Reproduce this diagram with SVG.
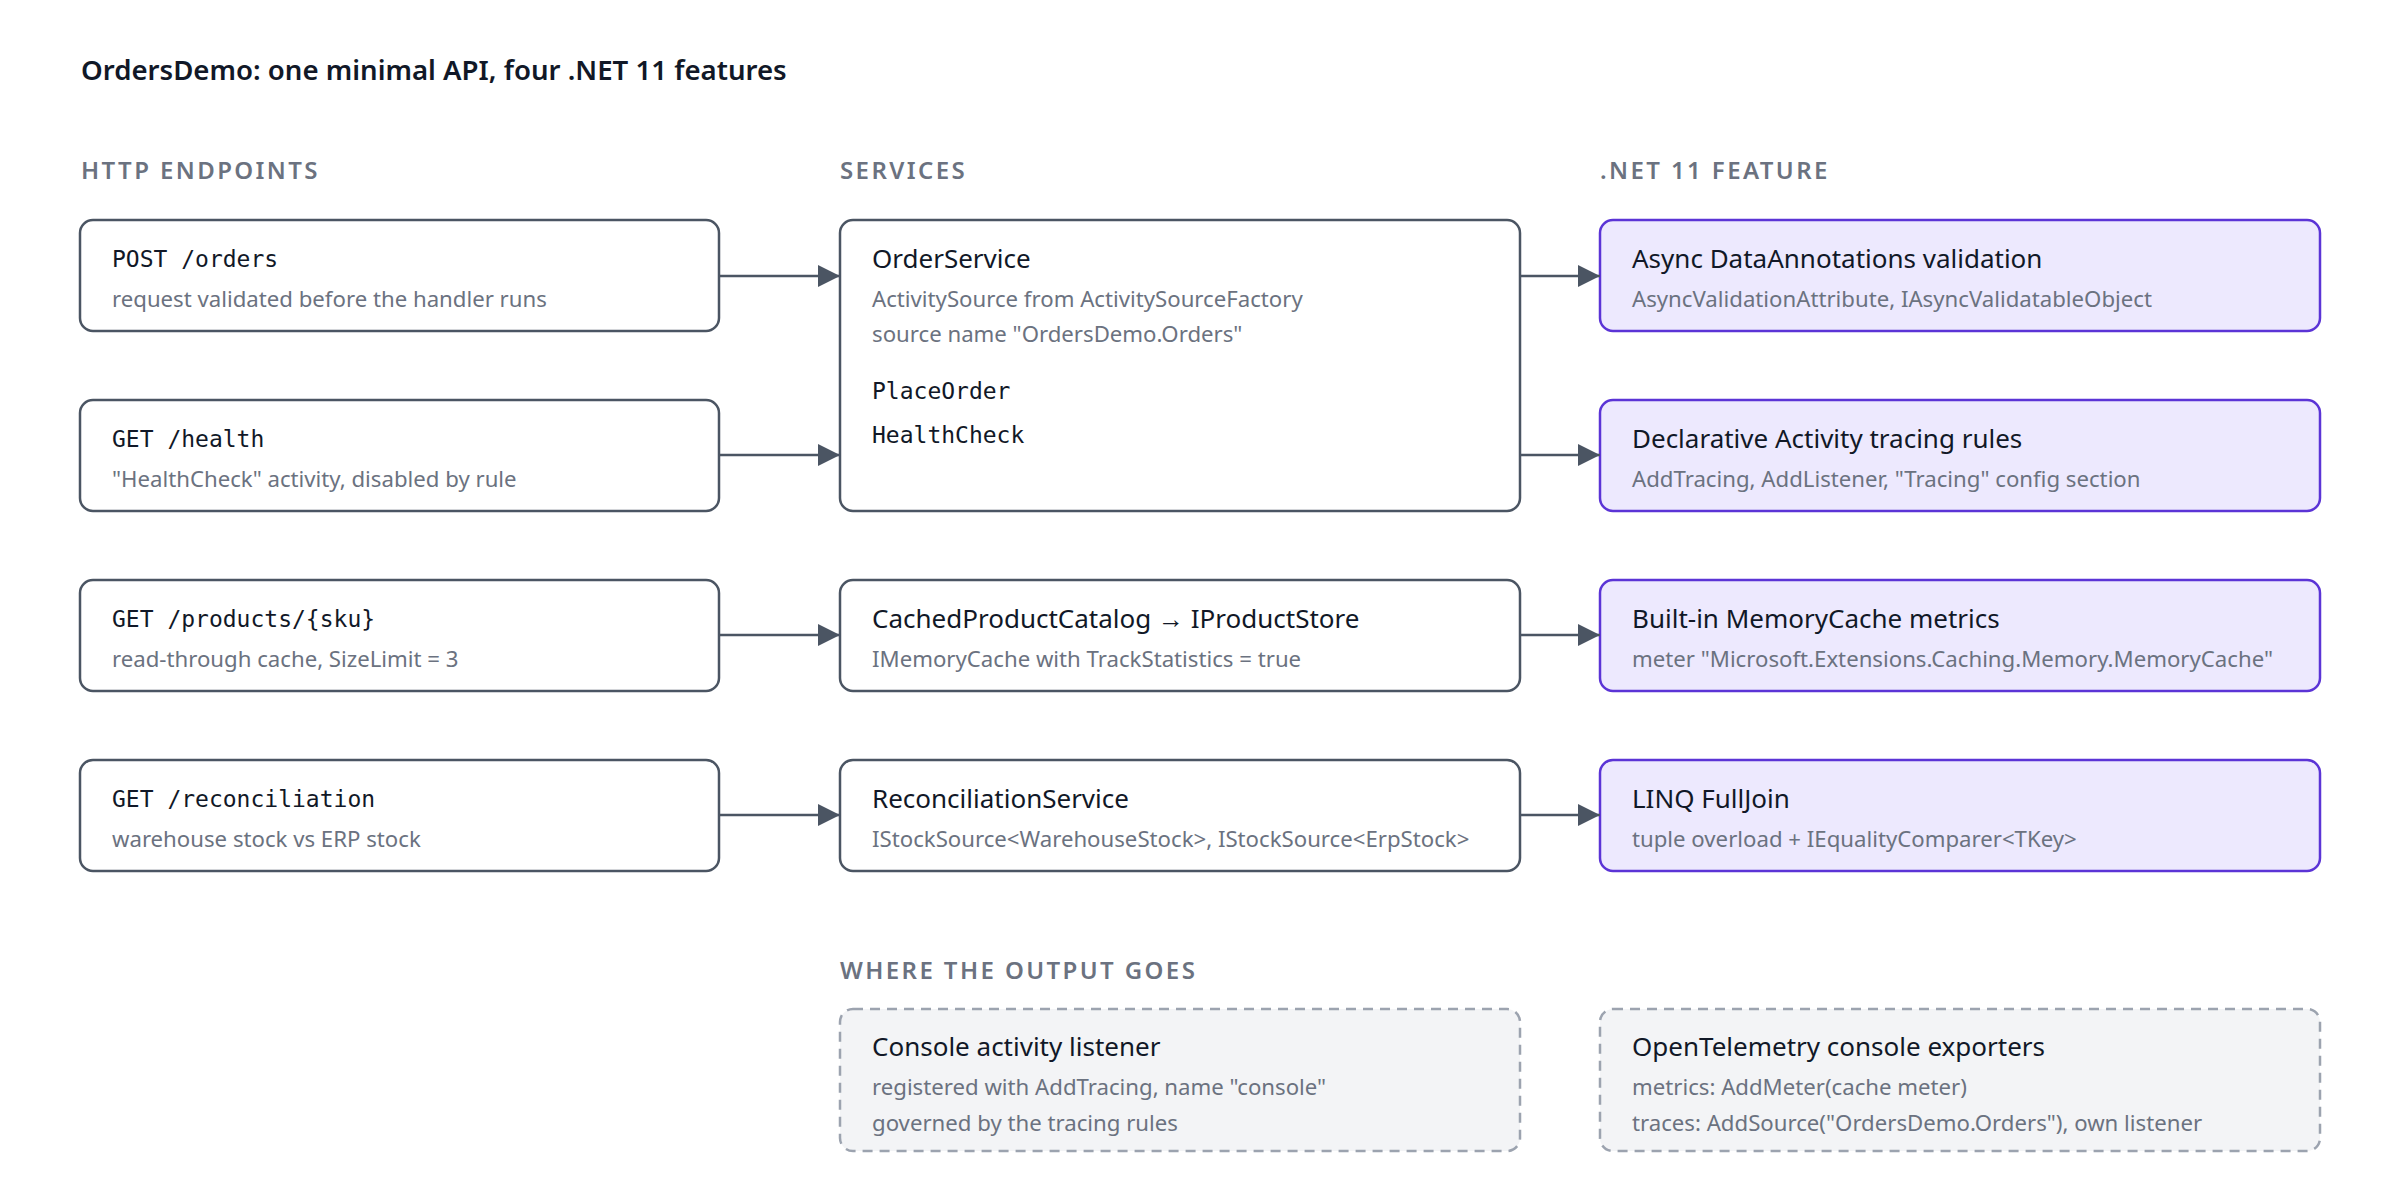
<svg xmlns="http://www.w3.org/2000/svg" width="2400" height="1200" viewBox="0 0 2400 1200">
<style>
text{font-family:"Noto Sans","Open Sans","Liberation Sans",sans-serif}
.title{font-size:27.6px;font-weight:600;fill:#111827}
.hdr{font-size:24px;font-weight:600;fill:#6b7280;letter-spacing:2.4px}
.box{fill:#fff;stroke:#4b5563;stroke-width:2.5}
.feat{fill:#ede9fe;stroke:#5b34d6;stroke-width:2.5}
.out{fill:#f3f4f6;stroke:#9ca3af;stroke-width:2.5;stroke-dasharray:10 7}
.t{font-size:26px;fill:#111827}
.m{font-family:"DejaVu Sans Mono","Liberation Mono",monospace;font-size:23px;fill:#111827}
.s{font-size:22.2px;fill:#6b7280}
</style>
<defs><marker id="ah2" viewBox="0 0 10 10" refX="10" refY="5" markerWidth="22" markerHeight="22" markerUnits="userSpaceOnUse" orient="auto"><path d="M0,0 L10,5 L0,10 z" fill="#4b5563"/></marker></defs>
<rect width="2400" height="1200" fill="#fff"/>
<text class="title" x="81" y="80">OrdersDemo: one minimal API, four .NET 11 features</text>
<text class="hdr" x="81" y="179">HTTP ENDPOINTS</text>
<text class="hdr" x="840" y="179">SERVICES</text>
<text class="hdr" x="1600" y="179">.NET 11 FEATURE</text>
<text class="hdr" x="840" y="979">WHERE THE OUTPUT GOES</text>
<g id="ep-orders"><rect class="box" x="80" y="220" width="639" height="111" rx="13"/><text class="m" x="112" y="267">POST /orders</text><text class="s" x="112" y="307">request validated before the handler runs</text></g>
<g id="ep-health"><rect class="box" x="80" y="400" width="639" height="111" rx="13"/><text class="m" x="112" y="447">GET /health</text><text class="s" x="112" y="487">"HealthCheck" activity, disabled by rule</text></g>
<g id="ep-products"><rect class="box" x="80" y="580" width="639" height="111" rx="13"/><text class="m" x="112" y="627">GET /products/{sku}</text><text class="s" x="112" y="667">read-through cache, SizeLimit = 3</text></g>
<g id="ep-recon"><rect class="box" x="80" y="760" width="639" height="111" rx="13"/><text class="m" x="112" y="807">GET /reconciliation</text><text class="s" x="112" y="847">warehouse stock vs ERP stock</text></g>
<g id="svc-order"><rect class="box" x="840" y="220" width="680" height="291" rx="13"/><text class="t" x="872" y="268">OrderService</text><text class="s" x="872" y="307">ActivitySource from ActivitySourceFactory</text><text class="s" x="872" y="342">source name "OrdersDemo.Orders"</text><text class="m" x="872" y="399">PlaceOrder</text><text class="m" x="872" y="443">HealthCheck</text></g>
<g id="svc-catalog"><rect class="box" x="840" y="580" width="680" height="111" rx="13"/><text class="t" x="872" y="628">CachedProductCatalog → IProductStore</text><text class="s" x="872" y="667">IMemoryCache with TrackStatistics = true</text></g>
<g id="svc-recon"><rect class="box" x="840" y="760" width="680" height="111" rx="13"/><text class="t" x="872" y="808">ReconciliationService</text><text class="s" x="872" y="847">IStockSource&lt;WarehouseStock&gt;, IStockSource&lt;ErpStock&gt;</text></g>
<g id="f-validation"><rect class="feat" x="1600" y="220" width="720" height="111" rx="13"/><text class="t" x="1632" y="268">Async DataAnnotations validation</text><text class="s" x="1632" y="307">AsyncValidationAttribute, IAsyncValidatableObject</text></g>
<g id="f-tracing"><rect class="feat" x="1600" y="400" width="720" height="111" rx="13"/><text class="t" x="1632" y="448">Declarative Activity tracing rules</text><text class="s" x="1632" y="487">AddTracing, AddListener, "Tracing" config section</text></g>
<g id="f-metrics"><rect class="feat" x="1600" y="580" width="720" height="111" rx="13"/><text class="t" x="1632" y="628">Built-in MemoryCache metrics</text><text class="s" x="1632" y="667">meter "Microsoft.Extensions.Caching.Memory.MemoryCache"</text></g>
<g id="f-fulljoin"><rect class="feat" x="1600" y="760" width="720" height="111" rx="13"/><text class="t" x="1632" y="808">LINQ FullJoin</text><text class="s" x="1632" y="847">tuple overload + IEqualityComparer&lt;TKey&gt;</text></g>
<g id="out-console"><rect class="out" x="840" y="1009" width="680" height="142" rx="13"/><text class="t" x="872" y="1056">Console activity listener</text><text class="s" x="872" y="1095">registered with AddTracing, name "console"</text><text class="s" x="872" y="1131">governed by the tracing rules</text></g>
<g id="out-otel"><rect class="out" x="1600" y="1009" width="720" height="142" rx="13"/><text class="t" x="1632" y="1056">OpenTelemetry console exporters</text><text class="s" x="1632" y="1095">metrics: AddMeter(cache meter)</text><text class="s" x="1632" y="1131">traces: AddSource("OrdersDemo.Orders"), own listener</text></g>
<g id="connectors" stroke="#4b5563" stroke-width="2.5" fill="none">
<path d="M719,276 H840" marker-end="url(#ah2)"/>
<path d="M719,455 H840" marker-end="url(#ah2)"/>
<path d="M719,635 H840" marker-end="url(#ah2)"/>
<path d="M719,815 H840" marker-end="url(#ah2)"/>
<path d="M1520,276 H1600" marker-end="url(#ah2)"/>
<path d="M1520,455 H1600" marker-end="url(#ah2)"/>
<path d="M1520,635 H1600" marker-end="url(#ah2)"/>
<path d="M1520,815 H1600" marker-end="url(#ah2)"/>
</g>
</svg>
